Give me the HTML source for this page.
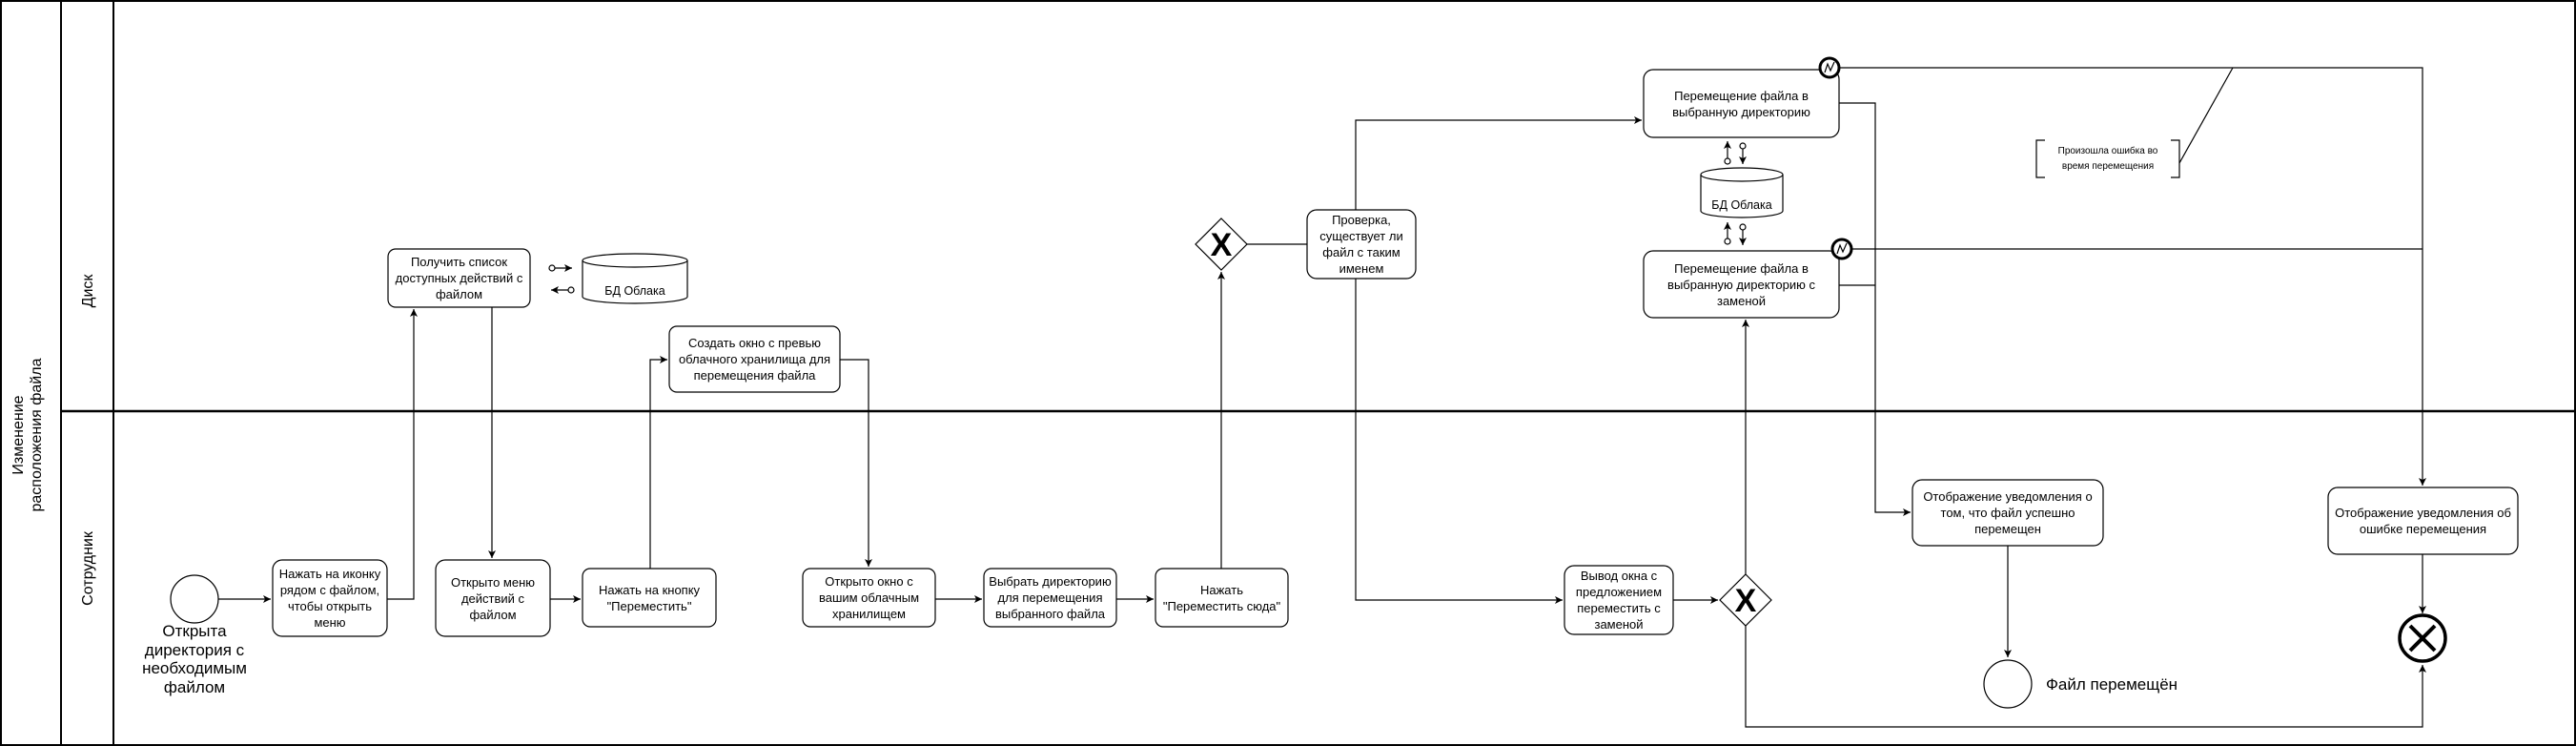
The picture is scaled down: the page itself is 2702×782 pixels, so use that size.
<!DOCTYPE html>
<html><head><meta charset="utf-8"><style>
body{margin:0;width:2702px;height:782px;background:#fff;overflow:hidden;position:relative;font-family:"Liberation Sans","Noto Sans CJK SC",sans-serif}
svg{position:absolute;left:0;top:0}
.t{position:absolute;display:flex;align-items:center;justify-content:center;text-align:center;font-size:13px;line-height:17px;color:#000;box-sizing:border-box;padding:0 3px}
</style></head><body>
<svg width="2702" height="782" viewBox="0 0 2702 782">
<defs><marker id="a" markerWidth="10" markerHeight="10" refX="9" refY="5" orient="auto" markerUnits="userSpaceOnUse"><path d="M1,1 L9,5 L1,9 L3,5 Z" fill="#000"/></marker></defs>
<g fill="none" stroke="#000">
<rect x="1" y="1" width="2700" height="780" stroke-width="2"/>
<line x1="64" y1="1" x2="64" y2="781" stroke-width="2"/>
<line x1="119" y1="1" x2="119" y2="781" stroke-width="2"/>
<line x1="64" y1="431" x2="2701" y2="431" stroke-width="2.5"/>
<g stroke-width="1.2">
<circle cx="204" cy="628" r="25"/>
<rect x="286" y="587" width="120" height="80" rx="10"/>
<rect x="407" y="261" width="149" height="61" rx="8"/>
<rect x="457" y="587" width="120" height="80" rx="10"/>
<rect x="611" y="596" width="140" height="61" rx="8"/>
<rect x="702" y="342" width="179" height="69" rx="8"/>
<rect x="842" y="596" width="139" height="61" rx="8"/>
<rect x="1032" y="596" width="139" height="61" rx="8"/>
<rect x="1212" y="596" width="139" height="61" rx="8"/>
<rect x="1371" y="220" width="114" height="72" rx="10"/>
<rect x="1724" y="73" width="205" height="71" rx="10"/>
<rect x="1724" y="263" width="205" height="70" rx="10"/>
<rect x="1641" y="593" width="114" height="72" rx="10"/>
<rect x="2006" y="503" width="200" height="69" rx="10"/>
<rect x="2442" y="511" width="199" height="70" rx="10"/>
<path d="M611,273 V311 A55,7 0 0 0 721,311 V273 A55,7 0 0 0 611,273 A55,7 0 0 0 721,273"/>
<path d="M1784,183 V221 A43,7 0 0 0 1870,221 V183 A43,7 0 0 0 1784,183 A43,7 0 0 0 1870,183"/>
<path d="M1281,229 L1308,256 L1281,283 L1254,256 Z"/>
<path d="M1831,602 L1858,629 L1831,656 L1804,629 Z"/>
<circle cx="2106" cy="717" r="25"/>
<path d="M2145,147 H2136 V186 H2145 M2277,147 H2286 V186 H2277"/>
<line x1="2286" y1="171" x2="2342" y2="71"/>
</g>
<circle cx="1919" cy="71" r="10" stroke-width="3" fill="#fff"/>
<circle cx="1932" cy="261" r="10" stroke-width="3" fill="#fff"/>
<path d="M1914,76 L1917,67 L1920,74 L1924,65" stroke-width="1.2"/>
<path d="M1927,266 L1930,257 L1933,264 L1937,255" stroke-width="1.2"/>
<circle cx="2541" cy="669" r="24" stroke-width="3.5"/>
<path d="M2528,656 L2554,682 M2554,656 L2528,682" stroke-width="4"/>
<g stroke-width="1.2">
<path d="M229,628 H284" marker-end="url(#a)"/>
<path d="M406,628 H434 V324" marker-end="url(#a)"/>
<path d="M516,322 V585" marker-end="url(#a)"/>
<path d="M577,628 H609" marker-end="url(#a)"/>
<path d="M682,596 V377 H700" marker-end="url(#a)"/>
<path d="M881,377 H911 V594" marker-end="url(#a)"/>
<path d="M981,628 H1030" marker-end="url(#a)"/>
<path d="M1171,628 H1210" marker-end="url(#a)"/>
<path d="M1281,596 V285" marker-end="url(#a)"/>
<path d="M1308,256 H1371"/>
<path d="M1422,220 V126 H1722" marker-end="url(#a)"/>
<path d="M1422,292 V629 H1639" marker-end="url(#a)"/>
<path d="M1755,629 H1802" marker-end="url(#a)"/>
<path d="M1831,602 V335" marker-end="url(#a)"/>
<path d="M1831,656 V762 H2541 V697" marker-end="url(#a)"/>
<path d="M1929,108 H1967 V537 H2004" marker-end="url(#a)"/>
<path d="M1929,299 H1967"/>
<path d="M1929,71 H2541 V509" marker-end="url(#a)"/>
<path d="M1942,261 H2541"/>
<path d="M2106,572 V689" marker-end="url(#a)"/>
<path d="M2541,581 V643" marker-end="url(#a)"/>
<circle cx="579" cy="281" r="3"/><path d="M582,281 H600" marker-end="url(#a)"/>
<circle cx="599" cy="304" r="3"/><path d="M596,304 H578" marker-end="url(#a)"/>
<circle cx="1812" cy="169" r="3"/><path d="M1812,166 V148" marker-end="url(#a)"/>
<circle cx="1828" cy="153" r="3"/><path d="M1828,156 V172" marker-end="url(#a)"/>
<circle cx="1812" cy="253" r="3"/><path d="M1812,250 V233" marker-end="url(#a)"/>
<circle cx="1828" cy="238" r="3"/><path d="M1828,241 V257" marker-end="url(#a)"/>
</g>
</g>
<text x="1281" y="268" font-size="34" font-weight="bold" text-anchor="middle" font-family="Liberation Sans,sans-serif">X</text>
<text x="1831" y="641" font-size="34" font-weight="bold" text-anchor="middle" font-family="Liberation Sans,sans-serif">X</text>
<text transform="translate(24,456) rotate(-90)" font-size="16" text-anchor="middle" font-family="Liberation Sans,sans-serif"><tspan x="0" y="0">Изменение</tspan><tspan x="0" y="19">расположения файла</tspan></text>
<text transform="translate(97,305) rotate(-90)" font-size="16" text-anchor="middle" font-family="Liberation Sans,sans-serif">Диск</text>
<text transform="translate(97,596) rotate(-90)" font-size="16" text-anchor="middle" font-family="Liberation Sans,sans-serif">Сотрудник</text>
</svg>
<div class="t" style="left:144px;top:652px;width:120px;height:80px;font-size:17px;line-height:19.5px;align-items:flex-start">Открыта директория с необходимым файлом</div>
<div class="t" style="left:286px;top:587px;width:120px;height:80px">Нажать на иконку рядом с файлом, чтобы открыть меню</div>
<div class="t" style="left:407px;top:261px;width:149px;height:61px">Получить список доступных действий с файлом</div>
<div class="t" style="left:611px;top:292px;width:110px;height:26px;font-size:12.5px">БД Облака</div>
<div class="t" style="left:457px;top:587px;width:120px;height:80px">Открыто меню действий с файлом</div>
<div class="t" style="left:611px;top:596px;width:140px;height:61px">Нажать на кнопку "Переместить"</div>
<div class="t" style="left:702px;top:342px;width:179px;height:69px">Создать окно с превью облачного хранилища для перемещения файла</div>
<div class="t" style="left:842px;top:596px;width:139px;height:61px">Открыто окно с вашим облачным хранилищем</div>
<div class="t" style="left:1032px;top:596px;width:139px;height:61px;padding:0 1px">Выбрать директорию для перемещения выбранного файла</div>
<div class="t" style="left:1212px;top:596px;width:139px;height:61px">Нажать<br>"Переместить сюда"</div>
<div class="t" style="left:1371px;top:220px;width:114px;height:72px">Проверка, существует ли файл с таким именем</div>
<div class="t" style="left:1724px;top:73px;width:205px;height:71px">Перемещение файла в выбранную директорию</div>
<div class="t" style="left:1724px;top:263px;width:205px;height:70px">Перемещение файла в выбранную директорию с заменой</div>
<div class="t" style="left:1784px;top:202px;width:86px;height:26px;font-size:12.5px">БД Облака</div>
<div class="t" style="left:1641px;top:593px;width:114px;height:72px">Вывод окна с предложением переместить с заменой</div>
<div class="t" style="left:2006px;top:503px;width:200px;height:69px">Отображение уведомления о том, что файл успешно перемещен</div>
<div class="t" style="left:2442px;top:511px;width:199px;height:70px">Отображение уведомления об ошибке перемещения</div>
<div class="t" style="left:2151px;top:147px;width:120px;height:39px;font-size:10px;line-height:16px">Произошла ошибка во время перемещения</div>
<div class="t" style="left:2146px;top:702px;width:160px;height:30px;font-size:17px;justify-content:flex-start;padding:0">Файл перемещён</div>
</body></html>
